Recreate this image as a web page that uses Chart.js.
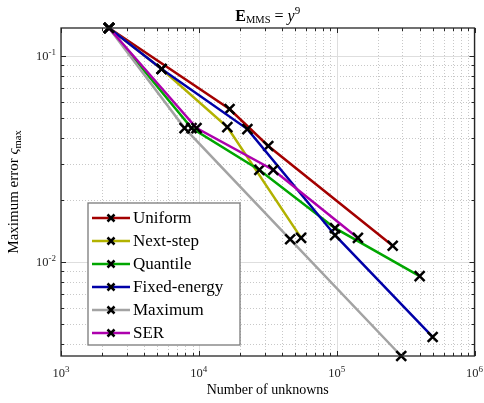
<!DOCTYPE html>
<html>
<head>
<meta charset="utf-8">
<script src="https://cdn.jsdelivr.net/npm/chart.js@4.4.0/dist/chart.umd.min.js"></script>
<style>
  html, body { margin: 0; padding: 0; background: #fff; }
</style>
</head>
<body>
<canvas id="errChart" width="484" height="403"></canvas>
<script>
// Series names, in plotting order
const seriesNames = ["Uniform", "Next-step", "Quantile", "Fixed-energy", "Maximum", "SER"];

// Number of unknowns per refinement step
const unknownsUniform     = [2230, 16700, 31900, 255000];
const unknownsNextStep    = [2230, 5370, 16100, 55200];
const unknownsQuantile    = [2230, 8850, 27500, 97300, 400000];
const unknownsFixedEnergy = [2230, 5370, 22500, 97300, 497000];
const unknownsMaximum     = [2230, 7880, 46000, 294000];
const unknownsSER         = [2230, 9620, 34700, 142600];

// Maximum error per refinement step
const errorUniform     = [0.1368, 0.0553, 0.0366, 0.0120];
const errorNextStep    = [0.1368, 0.0865, 0.0452, 0.0131];
const errorQuantile    = [0.1368, 0.0447, 0.0280, 0.0146, 0.00855];
const errorFixedEnergy = [0.1368, 0.0865, 0.0442, 0.0135, 0.00433];
const errorMaximum     = [0.1368, 0.0447, 0.0129, 0.0035];
const errorSER         = [0.1368, 0.0447, 0.0280, 0.0131];

// Decade exponents that get a tick label
const xTickPowers = [3, 4, 5, 6];
const yTickPowers = [-2, -1];

const seriesUnknowns = [unknownsUniform, unknownsNextStep, unknownsQuantile, unknownsFixedEnergy, unknownsMaximum, unknownsSER];
const seriesErrors = [errorUniform, errorNextStep, errorQuantile, errorFixedEnergy, errorMaximum, errorSER];
const lineColors = ["#a30000", "#b2b200", "#00a600", "#0000a8", "#a3a3a3", "#ad00ad"];

const SERIF = "'Liberation Serif', 'Times New Roman', serif";
const AXIS_COLOR = "#262626";

// y limits hug the data, x limits sit on whole decades
const allErrors = seriesErrors.flat();
const yMin = Math.min(...allErrors);
const yMax = Math.max(...allErrors);
const xMin = Math.pow(10, xTickPowers[0]);
const xMax = Math.pow(10, xTickPowers[xTickPowers.length - 1]);

const datasets = seriesNames.map((name, i) => ({
  label: name,
  data: seriesUnknowns[i].map((n, j) => ({ x: n, y: seriesErrors[i][j] })),
  borderColor: lineColors[i],
  backgroundColor: lineColors[i],
  borderWidth: 2.5,
  pointStyle: "crossRot",
  pointRadius: 7,
  pointHoverRadius: 7,
  pointBorderColor: "#000",
  pointBackgroundColor: "#000",
  pointBorderWidth: 2.5,
  tension: 0,
  fill: false,
  clip: false,
  order: seriesNames.length - i // later series end up on top
}));

// Draw text made of pieces with their own font and vertical shift
function drawRich(ctx, parts, x, y, align) {
  let total = 0;
  parts.forEach(p => { ctx.font = p.font; total += ctx.measureText(p.text).width; });
  let cx = align === "center" ? x - total / 2 : (align === "right" ? x - total : x);
  parts.forEach(p => {
    ctx.font = p.font;
    ctx.fillText(p.text, cx, y + (p.dy || 0));
    cx += ctx.measureText(p.text).width;
  });
}

// Values 1..9 x 10^k inside [lo, hi]
function logSteps(lo, hi) {
  const vals = [];
  for (let k = Math.floor(Math.log10(lo)); k <= Math.ceil(Math.log10(hi)); k++) {
    for (let m = 1; m <= 9; m++) {
      const v = m * Math.pow(10, k);
      if (v >= lo * 0.9999 && v <= hi * 1.0001) vals.push({ v: v, major: m === 1 });
    }
  }
  return vals;
}

const gridPlugin = {
  id: "logGrid",
  beforeDatasetsDraw(chart) {
    const { ctx, chartArea: a, scales: { x, y } } = chart;
    ctx.save();
    ctx.lineWidth = 1;
    // minor grid, dotted
    ctx.strokeStyle = "#c8c8c8";
    ctx.setLineDash([1, 2]);
    logSteps(xMin, xMax).filter(t => !t.major).forEach(t => {
      const px = Math.round(x.getPixelForValue(t.v)) + 0.5;
      ctx.beginPath(); ctx.moveTo(px, a.top); ctx.lineTo(px, a.bottom); ctx.stroke();
    });
    logSteps(yMin, yMax).filter(t => !t.major).forEach(t => {
      const py = Math.round(y.getPixelForValue(t.v)) + 0.5;
      ctx.beginPath(); ctx.moveTo(a.left, py); ctx.lineTo(a.right, py); ctx.stroke();
    });
    // major grid, solid
    ctx.setLineDash([]);
    ctx.strokeStyle = "#dedede";
    logSteps(xMin, xMax).filter(t => t.major).forEach(t => {
      const px = Math.round(x.getPixelForValue(t.v)) + 0.5;
      ctx.beginPath(); ctx.moveTo(px, a.top); ctx.lineTo(px, a.bottom); ctx.stroke();
    });
    logSteps(yMin, yMax).filter(t => t.major).forEach(t => {
      const py = Math.round(y.getPixelForValue(t.v)) + 0.5;
      ctx.beginPath(); ctx.moveTo(a.left, py); ctx.lineTo(a.right, py); ctx.stroke();
    });
    ctx.restore();
  }
};

const framePlugin = {
  id: "axesFrame",
  afterDraw(chart) {
    const { ctx, chartArea: a, scales: { x, y } } = chart;
    ctx.save();
    ctx.strokeStyle = AXIS_COLOR;
    ctx.lineWidth = 1.3;
    ctx.strokeRect(a.left, a.top, a.right - a.left, a.bottom - a.top);

    // inward ticks on all four sides
    ctx.lineWidth = 1;
    logSteps(xMin, xMax).forEach(t => {
      const px = Math.round(x.getPixelForValue(t.v)) + 0.5;
      const len = t.major ? 5 : 3;
      ctx.beginPath();
      ctx.moveTo(px, a.bottom); ctx.lineTo(px, a.bottom - len);
      ctx.moveTo(px, a.top); ctx.lineTo(px, a.top + len);
      ctx.stroke();
    });
    logSteps(yMin, yMax).forEach(t => {
      const py = Math.round(y.getPixelForValue(t.v)) + 0.5;
      const len = t.major ? 5 : 3;
      ctx.beginPath();
      ctx.moveTo(a.left, py); ctx.lineTo(a.left + len, py);
      ctx.moveTo(a.right, py); ctx.lineTo(a.right - len, py);
      ctx.stroke();
    });

    // tick labels 10^k
    ctx.fillStyle = AXIS_COLOR;
    ctx.textBaseline = "alphabetic";
    const base = "12.5px " + SERIF;
    const exp = "9px " + SERIF;
    xTickPowers.forEach(k => {
      const px = x.getPixelForValue(Math.pow(10, k));
      drawRich(ctx, [{ text: "10", font: base }, { text: String(k), font: exp, dy: -5 }], px, a.bottom + 21, "center");
    });
    yTickPowers.forEach(k => {
      const py = y.getPixelForValue(Math.pow(10, k));
      drawRich(ctx, [{ text: "10", font: base }, { text: "-" + Math.abs(k), font: exp, dy: -5 }], a.left - 5, py + 4, "right");
    });

    // axis labels and title
    ctx.fillStyle = "#000";
    const cx = (a.left + a.right) / 2;
    drawRich(ctx, [{ text: "Number of unknowns", font: "14px " + SERIF }], cx, 394, "center");

    ctx.save();
    ctx.translate(18, (a.top + a.bottom) / 2);
    ctx.rotate(-Math.PI / 2);
    drawRich(ctx, [
      { text: "Maximum error ", font: "15px " + SERIF },
      { text: "ς", font: "italic 15px " + SERIF },
      { text: "max", font: "10.5px " + SERIF, dy: 3 }
    ], 0, 0, "center");
    ctx.restore();

    drawRich(ctx, [
      { text: "E", font: "bold 16px " + SERIF },
      { text: "MMS", font: "10.5px " + SERIF, dy: 2 },
      { text: " = ", font: "16px " + SERIF },
      { text: "y", font: "italic 16px " + SERIF },
      { text: "9", font: "11px " + SERIF, dy: -7 }
    ], cx, 21, "center");
    ctx.restore();
  }
};

const legendPlugin = {
  id: "boxLegend",
  afterDatasetsDraw(chart) {
    const { ctx } = chart;
    const box = { left: 88, top: 203, width: 152, height: 142 };
    const rowTop = 218, rowStep = 23;
    ctx.save();
    ctx.fillStyle = "#fff";
    ctx.fillRect(box.left, box.top, box.width, box.height);
    ctx.strokeStyle = "#7a7a7a";
    ctx.lineWidth = 1.3;
    ctx.strokeRect(box.left, box.top, box.width, box.height);

    chart.data.datasets.forEach((ds, i) => {
      const cy = rowTop + i * rowStep;
      ctx.strokeStyle = ds.borderColor;
      ctx.lineWidth = 2.5;
      ctx.beginPath(); ctx.moveTo(92, cy); ctx.lineTo(130, cy); ctx.stroke();
      ctx.strokeStyle = "#000";
      ctx.lineWidth = 2.5;
      const r = 3.5;
      ctx.beginPath();
      ctx.moveTo(111 - r, cy - r); ctx.lineTo(111 + r, cy + r);
      ctx.moveTo(111 - r, cy + r); ctx.lineTo(111 + r, cy - r);
      ctx.stroke();
      ctx.fillStyle = "#000";
      ctx.font = "17px " + SERIF;
      ctx.textBaseline = "middle";
      ctx.fillText(ds.label, 133, cy + 1);
    });
    ctx.restore();
  }
};

new Chart(document.getElementById("errChart").getContext("2d"), {
  type: "line",
  data: { datasets: datasets },
  options: {
    responsive: false,
    animation: false,
    devicePixelRatio: 1,
    layout: { padding: { left: 61, top: 28, right: 8, bottom: 47 } },
    plugins: {
      legend: { display: false },
      tooltip: { enabled: false },
      title: { display: false }
    },
    scales: {
      x: { type: "logarithmic", min: xMin, max: xMax, display: false },
      y: { type: "logarithmic", min: yMin, max: yMax, display: false }
    }
  },
  plugins: [gridPlugin, legendPlugin, framePlugin]
});
</script>
</body>
</html>
